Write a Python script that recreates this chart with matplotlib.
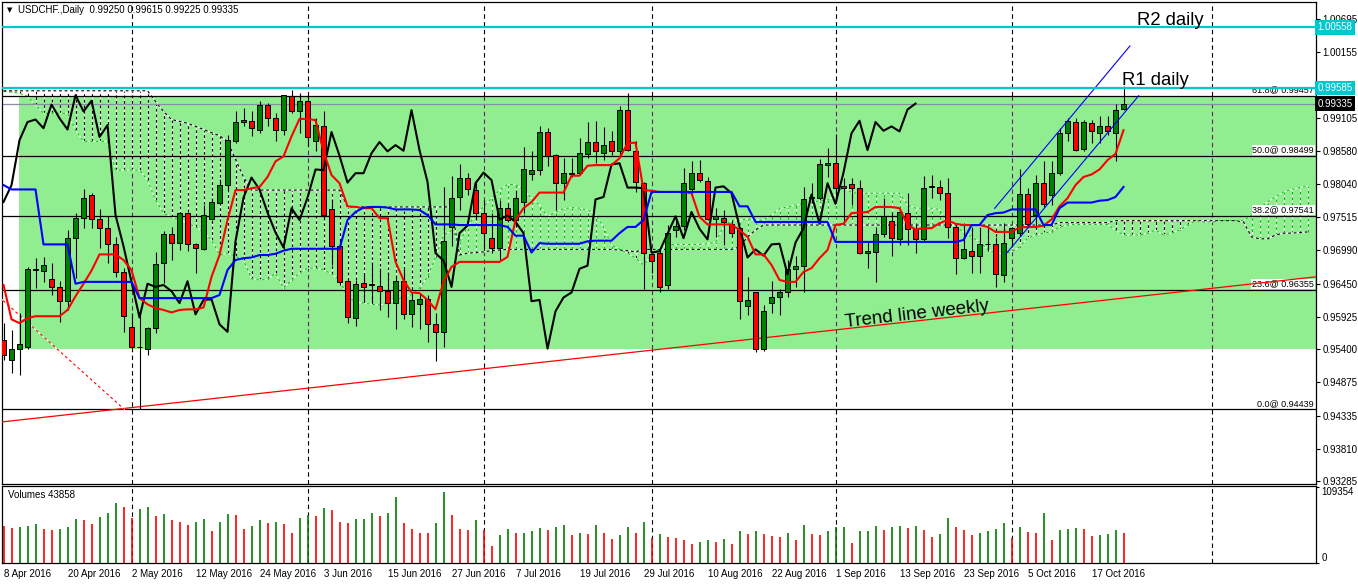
import numpy as np
import matplotlib
matplotlib.use("Agg")
import matplotlib.pyplot as plt
from matplotlib.patches import Rectangle
from matplotlib.transforms import blended_transform_factory

# ---- USDCHF daily, 8 Apr 2016 .. 21 Oct 2016 (one value per trading day) ----
OPENS = [
    0.9555, 0.9523, 0.9540, 0.9544, 0.9667, 0.9666, 0.9652, 0.9639, 0.9617, 0.9718,
    0.9750, 0.9787, 0.9748, 0.9735, 0.9708, 0.9664, 0.9576, 0.9543, 0.9541, 0.9574,
    0.9678, 0.9725, 0.9710, 0.9759, 0.9709, 0.9700, 0.9748, 0.9774, 0.9803, 0.9874,
    0.9904, 0.9906, 0.9891, 0.9932, 0.9910, 0.9892, 0.9946, 0.9921, 0.9938, 0.9873,
    0.9898, 0.9764, 0.9705, 0.9650, 0.9590, 0.9646, 0.9644, 0.9642, 0.9633, 0.9614,
    0.9649, 0.9596, 0.9612, 0.9620, 0.9580, 0.9568, 0.9736, 0.9784, 0.9814, 0.9795,
    0.9758, 0.9719, 0.9703, 0.9766, 0.9747, 0.9776, 0.9820, 0.9827, 0.9888, 0.9851,
    0.9806, 0.9821, 0.9822, 0.9853, 0.9872, 0.9855, 0.9874, 0.9857, 0.9923, 0.9858,
    0.9806, 0.9693, 0.9694, 0.9643, 0.9731, 0.9738, 0.9796, 0.9823, 0.9810, 0.9748,
    0.9751, 0.9740, 0.9735, 0.9610, 0.9631, 0.9540, 0.9614, 0.9623, 0.9632, 0.9668,
    0.9674, 0.9782, 0.9782, 0.9835, 0.9838, 0.9802, 0.9804, 0.9798, 0.9694, 0.9696,
    0.9725, 0.9746, 0.9716, 0.9759, 0.9732, 0.9716, 0.9800, 0.9800, 0.9791, 0.9736,
    0.9687, 0.9698, 0.9690, 0.9708, 0.9708, 0.9659, 0.9719, 0.9726, 0.9788, 0.9755,
    0.9807, 0.9787, 0.9823, 0.9887, 0.9904, 0.9861, 0.9902, 0.9887, 0.9897, 0.9887,
    0.99250,
]
HIGHS = [
    0.9582, 0.9571, 0.9598, 0.9672, 0.9686, 0.9688, 0.9679, 0.9649, 0.9731, 0.9758,
    0.9797, 0.9790, 0.9764, 0.9753, 0.9720, 0.9670, 0.9598, 0.9603, 0.9575, 0.9696,
    0.9730, 0.9736, 0.9760, 0.9760, 0.9710, 0.9771, 0.9782, 0.9812, 0.9883, 0.9921,
    0.9926, 0.9922, 0.9937, 0.9934, 0.9919, 0.9948, 0.9955, 0.9950, 0.9946, 0.9910,
    0.9921, 0.9779, 0.9715, 0.9651, 0.9651, 0.9663, 0.9680, 0.9670, 0.9664, 0.9656,
    0.9668, 0.9632, 0.9629, 0.9627, 0.9598, 0.9800, 0.9818, 0.9837, 0.9822, 0.9811,
    0.9779, 0.9758, 0.9779, 0.9774, 0.9795, 0.9864, 0.9858, 0.9897, 0.9895, 0.9853,
    0.9846, 0.9846, 0.9878, 0.9904, 0.9906, 0.9896, 0.9889, 0.9929, 0.9950, 0.9873,
    0.9808, 0.9694, 0.9699, 0.9739, 0.9752, 0.9830, 0.9842, 0.9843, 0.9816, 0.9766,
    0.9763, 0.9747, 0.9736, 0.9656, 0.9632, 0.9611, 0.9649, 0.9636, 0.9683, 0.9689,
    0.9800, 0.9806, 0.9844, 0.9862, 0.9885, 0.9814, 0.9814, 0.9811, 0.9712, 0.9736,
    0.9783, 0.9760, 0.9763, 0.9790, 0.9741, 0.9818, 0.9819, 0.9811, 0.9814, 0.9742,
    0.9742, 0.9736, 0.9736, 0.9736, 0.9720, 0.9742, 0.9736, 0.9828, 0.9798, 0.9819,
    0.9841, 0.9841, 0.9894, 0.9910, 0.9910, 0.9908, 0.9907, 0.9913, 0.9913, 0.9933,
    0.99615,
]
LOWS = [
    0.9523, 0.9502, 0.9499, 0.9541, 0.9638, 0.9648, 0.9627, 0.9584, 0.9603, 0.9654,
    0.9734, 0.9734, 0.9702, 0.9679, 0.9656, 0.9567, 0.9541, 0.94439, 0.9531, 0.9566,
    0.9646, 0.9683, 0.9699, 0.9698, 0.9663, 0.9699, 0.9747, 0.9773, 0.9795, 0.9870,
    0.9897, 0.9882, 0.9886, 0.9897, 0.9873, 0.9883, 0.9918, 0.9886, 0.9865, 0.9857,
    0.9750, 0.9675, 0.9643, 0.9582, 0.9578, 0.9616, 0.9616, 0.9603, 0.9592, 0.9572,
    0.9588, 0.9575, 0.9572, 0.9552, 0.9521, 0.9544, 0.9705, 0.9763, 0.9787, 0.9747,
    0.9699, 0.9694, 0.9683, 0.9744, 0.9736, 0.9759, 0.9811, 0.9819, 0.9834, 0.9763,
    0.9779, 0.9816, 0.9819, 0.9847, 0.9839, 0.9843, 0.9851, 0.9849, 0.9857, 0.9792,
    0.9636, 0.9662, 0.9632, 0.9636, 0.9720, 0.9731, 0.9787, 0.9808, 0.9747, 0.9720,
    0.9707, 0.9720, 0.9588, 0.9595, 0.9536, 0.9538, 0.9598, 0.9595, 0.9624, 0.9640,
    0.9631, 0.9774, 0.9779, 0.9816, 0.9775, 0.9742, 0.9771, 0.9693, 0.9670, 0.9648,
    0.9720, 0.9689, 0.9707, 0.9707, 0.9694, 0.9712, 0.9783, 0.9779, 0.9719, 0.9661,
    0.9684, 0.9662, 0.9662, 0.9698, 0.9639, 0.9648, 0.9704, 0.9721, 0.9734, 0.9734,
    0.9768, 0.9771, 0.9819, 0.9873, 0.9857, 0.9857, 0.9870, 0.9870, 0.9883, 0.9842,
    0.99225,
]
CLOSES = [
    0.9531, 0.9540, 0.9549, 0.9668, 0.9669, 0.9675, 0.9639, 0.9617, 0.9719, 0.9750,
    0.9783, 0.9748, 0.9735, 0.9708, 0.9664, 0.9593, 0.9543, 0.9544, 0.9574, 0.9677,
    0.9725, 0.9710, 0.9759, 0.9708, 0.9702, 0.9755, 0.9776, 0.9803, 0.9875, 0.9904,
    0.9908, 0.9894, 0.9932, 0.9910, 0.9892, 0.9947, 0.9921, 0.9938, 0.9880, 0.9899,
    0.9755, 0.9705, 0.9648, 0.9591, 0.9645, 0.9640, 0.9643, 0.9633, 0.9614, 0.9649,
    0.9596, 0.9619, 0.9620, 0.9580, 0.9568, 0.9713, 0.9783, 0.9815, 0.9796, 0.9759,
    0.9727, 0.9703, 0.9766, 0.9747, 0.9783, 0.9828, 0.9827, 0.9888, 0.9850, 0.9807,
    0.9822, 0.9822, 0.9854, 0.9872, 0.9857, 0.9867, 0.9858, 0.9923, 0.9859, 0.9808,
    0.9694, 0.9682, 0.9640, 0.9726, 0.9738, 0.9806, 0.9823, 0.9811, 0.9748, 0.9754,
    0.9744, 0.9726, 0.9617, 0.9619, 0.9541, 0.9601, 0.9623, 0.9631, 0.9669, 0.9674,
    0.9780, 0.9784, 0.9836, 0.9838, 0.9799, 0.9799, 0.9798, 0.9695, 0.9697, 0.9725,
    0.9753, 0.9718, 0.9760, 0.9733, 0.9716, 0.9799, 0.9801, 0.9790, 0.9736, 0.9687,
    0.9700, 0.9690, 0.9708, 0.9709, 0.9660, 0.9711, 0.9734, 0.9788, 0.9741, 0.9806,
    0.9773, 0.9823, 0.9886, 0.9906, 0.9859, 0.9904, 0.9890, 0.9897, 0.9889, 0.9924,
    0.99335,
]
VOLUMES = [
    53000, 50600, 51500, 53000, 55900, 48700, 47200, 48700, 51500, 63100,
    61700, 55900, 66000, 71800, 86200, 80400, 64100, 77600, 80400, 67400,
    70300, 61700, 58800, 54400, 58800, 63100, 45800, 58800, 70300, 68900,
    48700, 53000, 61700, 57300, 58800, 55900, 42900, 64500, 68900, 67400,
    79000, 76100, 58800, 57300, 63100, 63600, 71800, 67400, 71800, 94900,
    57300, 48700, 42900, 42500, 57300, 102100, 68900, 48700, 47200, 61700,
    47200, 24100, 40000, 48700, 42900, 43300, 45800, 50100, 47200, 51500,
    54400, 40000, 42900, 41400, 54400, 42900, 34200, 40000, 51500, 42900,
    58800, 36100, 41400, 37600, 35600, 32800, 27000, 29900, 32800, 29900,
    34200, 27000, 45800, 41400, 45800, 41400, 38500, 37100, 42900, 32800,
    54400, 41400, 40000, 45800, 51500, 52000, 28400, 45800, 46200, 53000,
    47200, 51500, 53000, 50100, 53000, 47200, 37100, 41400, 64500, 51500,
    47200, 40000, 42900, 45800, 48700, 57300, 36600, 51500, 44300, 42900,
    71800, 32800, 47200, 48700, 50100, 48700, 38500, 40000, 41400, 47200,
    43858,
]

# Ichimoku lines
TENKAN = [
    0.9643, 0.9588, 0.9582, 0.9590, 0.9593, 0.9593, 0.9593, 0.9593, 0.9603, 0.9625,
    0.9645, 0.9666, 0.9692, 0.9692, 0.9692, 0.9683, 0.9667, 0.9622, 0.9612, 0.9606,
    0.9603, 0.9599, 0.9603, 0.9604, 0.9604, 0.9607, 0.9656, 0.9691, 0.9747, 0.9795,
    0.9795, 0.9798, 0.9800, 0.9816, 0.9841, 0.9849, 0.9881, 0.9909, 0.9909, 0.9907,
    0.9857, 0.9819, 0.9806, 0.9769, 0.9768, 0.9766, 0.9766, 0.9750, 0.9750, 0.9680,
    0.9651, 0.9631, 0.9630, 0.9619, 0.9604, 0.9648, 0.9672, 0.9680, 0.9680, 0.9680,
    0.9680, 0.9680, 0.9680, 0.9688, 0.9747, 0.9766, 0.9776, 0.9791, 0.9791, 0.9791,
    0.9791, 0.9818, 0.9818, 0.9834, 0.9835, 0.9835, 0.9835, 0.9846, 0.9870, 0.9871,
    0.9795, 0.9794, 0.9792, 0.9792, 0.9792, 0.9792, 0.9790, 0.9752, 0.9740, 0.9740,
    0.9740, 0.9740, 0.9731, 0.9720, 0.9692, 0.9692, 0.9675, 0.9651, 0.9648, 0.9648,
    0.9664, 0.9670, 0.9686, 0.9699, 0.9739, 0.9741, 0.9758, 0.9759, 0.9760, 0.9768,
    0.9768, 0.9768, 0.9766, 0.9739, 0.9732, 0.9734, 0.9734, 0.9742, 0.9747, 0.9741,
    0.9739, 0.9739, 0.9739, 0.9736, 0.9728, 0.9728, 0.9728, 0.9735, 0.9736, 0.9736,
    0.9738, 0.9748, 0.9769, 0.9782, 0.9803, 0.9816, 0.9820, 0.9828, 0.9843, 0.9853,
    0.9891,
]
KIJUN = ([0.9803] + [0.9796] * 4 + [0.9708] * 4 + [0.9645] + [0.9648] * 7 + [0.9622] * 10
         + [0.9627, 0.9667, 0.9683, 0.9686, 0.9687, 0.9691, 0.9691, 0.9693, 0.9698]
         + [0.9701] * 7
         + [0.9747, 0.9760, 0.9767, 0.9768, 0.9768, 0.9767, 0.9764, 0.9764, 0.9764, 0.9763, 0.9755]
         + [0.9740] * 3 + [0.9739] * 6 + [0.9736, 0.9722, 0.9722, 0.9695, 0.9710]
         + [0.9709] * 5 + [0.9713] + [0.9714] * 3 + [0.9726, 0.9736, 0.9736, 0.9747]
         + [0.9792] * 11 + [0.9769] * 2 + [0.9744] * 10 + [0.9712] * 16
         + [0.9715, 0.9739, 0.9739, 0.9755, 0.9758, 0.9759] + [0.9764] * 4
         + [0.9739] * 2 + [0.9766] + [0.9775] * 4 + [0.9778, 0.9779, 0.9784, 0.9800])
SPAN_A = [
    0.9953, 0.9952, 0.9950, 0.9945, 0.9931, 0.9918, 0.9918, 0.9918, 0.9918, 0.9891,
    0.9873, 0.9873, 0.9873, 0.9873, 0.9827, 0.9827, 0.9827, 0.9827, 0.9811, 0.9779,
    0.9758, 0.9752, 0.9747, 0.9742, 0.9736, 0.9728, 0.9715, 0.9691, 0.9694, 0.9689,
    0.9683, 0.9653, 0.9651, 0.9652, 0.9662, 0.9638, 0.9651, 0.9662, 0.9670, 0.9670,
    0.9667, 0.9661, 0.9651, 0.9624, 0.9616, 0.9614, 0.9612, 0.9611, 0.9614, 0.9619,
    0.9624, 0.9627, 0.9638, 0.9656, 0.9688, 0.9723, 0.9730, 0.9712, 0.9736, 0.9755,
    0.9768, 0.9782, 0.9795, 0.9804, 0.9804, 0.9795, 0.9782, 0.9771, 0.9752, 0.9760,
    0.9765, 0.9767, 0.9766, 0.9763, 0.9756, 0.9736, 0.9707, 0.9700, 0.9694, 0.9686,
    0.9675, 0.9691, 0.9702, 0.9707, 0.9708, 0.9708, 0.9708, 0.9708, 0.9709, 0.9712,
    0.9736, 0.9747, 0.9747, 0.9749, 0.9747, 0.9747, 0.9755, 0.9765, 0.9768, 0.9771,
    0.9774, 0.9775, 0.9778, 0.9779, 0.9787, 0.9800, 0.9791, 0.9790, 0.9790, 0.9790,
    0.9790, 0.9790, 0.9790, 0.9771, 0.9766, 0.9766, 0.9766, 0.9764, 0.9742, 0.9736,
    0.9728, 0.9720, 0.9712, 0.9700, 0.9694, 0.9694, 0.9696, 0.9704, 0.9718, 0.9723,
    0.9726, 0.9728, 0.9736, 0.9739, 0.9740, 0.9740, 0.9740, 0.9740, 0.9740, 0.9731,
    0.9723, 0.9723, 0.9723, 0.9726, 0.9731, 0.9723, 0.9726, 0.9731, 0.9739, 0.9746,
    0.9744, 0.9744, 0.9746, 0.9746, 0.9746, 0.9746, 0.9755, 0.9766, 0.9776, 0.9784,
    0.9792, 0.9796, 0.9799, 0.9801,
]
SPAN_B = ([0.9954] * 19 + [0.9937]
          + [0.9921, 0.9908, 0.9905, 0.9902, 0.9897, 0.9892, 0.9887, 0.9882, 0.9873, 0.9844]
          + [0.9816] + [0.9795] * 12 + [0.9768] * 14
          + [0.9691, 0.9694, 0.9695, 0.9696, 0.9698, 0.9699] + [0.9700] * 14
          + [0.9699, 0.9698, 0.9696] + [0.9700] * 12 + [0.9704, 0.9720, 0.9731]
          + [0.9739] * 37 + [0.9743] * 7 + [0.9746] * 16
          + [0.9744, 0.9720, 0.9717, 0.9717, 0.9723, 0.9726, 0.9726, 0.9727, 0.9728])
CHIKOU_SHIFT = 26

DATE_LABELS = ["8 Apr 2016", "20 Apr 2016", "2 May 2016", "12 May 2016", "24 May 2016",
               "3 Jun 2016", "15 Jun 2016", "27 Jun 2016", "7 Jul 2016", "19 Jul 2016",
               "29 Jul 2016", "10 Aug 2016", "22 Aug 2016", "1 Sep 2016", "13 Sep 2016",
               "23 Sep 2016", "5 Oct 2016", "17 Oct 2016"]
MONTH_BARS = [16, 38, 60, 81, 104, 126, 151]
PRICE_TICKS = [1.00695, 1.00155, 0.99105, 0.98580, 0.98040, 0.97515, 0.96990,
               0.96450, 0.95925, 0.95400, 0.94875, 0.94335, 0.93810, 0.93285]
FIB_LEVELS = [0.0, 23.6, 38.2, 50.0, 61.8]
FIB_PRICES = [0.94439, 0.96355, 0.97541, 0.98499, 0.99457]
R1 = 0.99585
R2 = 1.00558
ZONE_START, ZONE_BOTTOM, ZONE_TOP = 1.94, 0.95400, 0.99457
TREND_WEEKLY = [(0, 0.9424), (164, 0.9656)]
FIB_DIAG = [(-1.0, 0.9629), (15.1, 0.94439)]
CHANNEL_UP = [(123.9, 0.97658), (140.8, 1.00258)]
CHANNEL_LO = [(125.3, 0.96926), (141.9, 0.99461)]
VOL_MAX = 109354

FONT = "Liberation Sans"
W, H = 1358, 584
YMIN, YMAX = 0.93243, 1.00962
XMIN, XMAX = -0.19, 164.06

fig = plt.figure(figsize=(W / 100, H / 100), dpi=100)
fig.patch.set_facecolor("white")
ax = fig.add_axes([2 / W, 100 / H, 1314 / W, 482 / H])
axv = fig.add_axes([2 / W, 21 / H, 1314 / W, 77 / H])

for a in (ax, axv):
    a.set_xlim(XMIN, XMAX)
    a.set_facecolor("white")
    for s in a.spines.values():
        s.set_linewidth(0.9)
        s.set_color("black")
ax.set_ylim(YMIN, YMAX)
axv.set_ylim(0, 110800)

x = np.arange(len(CLOSES))
o = np.array(OPENS)
h = np.array(HIGHS)
l = np.array(LOWS)
c = np.array(CLOSES)

# support zone
ax.add_patch(Rectangle((ZONE_START, ZONE_BOTTOM), 200, ZONE_TOP - ZONE_BOTTOM,
                       facecolor="#90ee90", edgecolor="none", zorder=0))

# month separators
dash = (0, (4, 3))
ax.vlines(MONTH_BARS, YMIN, ZONE_BOTTOM, colors="black", lw=0.8, linestyles=dash, zorder=1)
ax.vlines(MONTH_BARS, ZONE_BOTTOM, ZONE_TOP, colors="#5e2a5e", lw=0.8, linestyles=dash, zorder=1)
ax.vlines(MONTH_BARS, ZONE_TOP, YMAX, colors="black", lw=0.8, linestyles=dash, zorder=1)
axv.vlines(MONTH_BARS, 0, 110800, colors="black", lw=0.8, linestyles=dash, zorder=1)

# kumo
sa = np.array(SPAN_A)
sb = np.array(SPAN_B)
cx = np.arange(len(sa))
lo = np.minimum(sa, sb)
hi = np.maximum(sa, sb)
dots = (0, (2.5, 2.5))
ax.vlines(cx, lo, hi, colors="white", lw=0.8, zorder=2)
ax.vlines(cx, lo, hi, colors=np.where(sa >= sb, "#00c000", "black"), lw=0.8,
          linestyles=dots, zorder=2.1)
ax.plot(cx, sa, color="white", lw=0.8, zorder=2.2)
ax.plot(cx, sa, color="#00d000", lw=0.8, ls=dots, zorder=2.3)
ax.plot(cx, sb, color="white", lw=0.8, zorder=2.2)
ax.plot(cx, sb, color="black", lw=0.8, ls=dots, zorder=2.3)

# fibonacci levels
tr = blended_transform_factory(ax.transAxes, ax.transData)
for lvl, p in zip(FIB_LEVELS, FIB_PRICES):
    ax.axhline(p, color="black", lw=0.9, zorder=2.5)
    ax.text(0.9985, p + 0.00022, "%.1f@ %.5f" % (lvl, p), transform=tr, ha="right",
            va="bottom", fontsize=6.5, family=FONT, zorder=2.4,
            bbox=dict(boxstyle="square,pad=0.08", fc="white", ec="none"))
ax.axhline(CLOSES[-1], color="#8c8ca6", lw=0.9, zorder=2.5)

# trend lines
ax.axline(TREND_WEEKLY[0], TREND_WEEKLY[1], color="red", lw=0.9, zorder=3)
fx, fy = zip(*FIB_DIAG)
ax.plot(fx, fy, color="white", lw=0.8, zorder=3)
ax.plot(fx, fy, color="red", lw=0.8, ls=dots, zorder=3.1)

# candles
ax.vlines(x, l, h, colors="black", lw=0.8, zorder=4)
up = c >= o
ax.bar(x, np.abs(c - o), bottom=np.minimum(o, c), width=0.56,
       color=np.where(up, "#008000", "#ff0000"), edgecolor="black", linewidth=0.7, zorder=4.1)

# ichimoku lines
ax.plot(np.arange(len(CLOSES) - CHIKOU_SHIFT), CLOSES[CHIKOU_SHIFT:], color="black", lw=1.5, zorder=5)
ax.plot(x, TENKAN, color="#ff0000", lw=1.5, zorder=5.1)
ax.plot(x, KIJUN, color="#0000ff", lw=1.5, zorder=5.2)

# channel
for seg in (CHANNEL_UP, CHANNEL_LO):
    sx, sy = zip(*seg)
    ax.plot(sx, sy, color="#0000ff", lw=0.8, zorder=6)

# resistance lines
ax.axhline(R2, color="#00c8d0", lw=1.6, zorder=6)
ax.axhline(R1, color="#00c8d0", lw=1.6, zorder=6)

ax.text(141.7, 1.00594, "R2 daily", fontsize=13.3, family=FONT, ha="left", va="baseline", zorder=7)
ax.text(139.8, 0.99633, "R1 daily", fontsize=13.3, family=FONT, ha="left", va="baseline", zorder=7)
ax.text(105.2, 0.95757, "Trend line weekly", fontsize=13.5, family=FONT, ha="left",
        va="baseline", rotation=6.5, rotation_mode="anchor", zorder=7)

# price axis
ax.yaxis.tick_right()
ax.set_yticks(PRICE_TICKS)
ax.set_yticklabels(["%.5f" % t for t in PRICE_TICKS], fontsize=7, family=FONT)
ax.tick_params(axis="y", length=3, width=0.8, pad=1.5)
ax.tick_params(axis="x", bottom=False, labelbottom=False)

for price, fc in ((R2, "#00c8d0"), (R1, "#00c8d0"), (CLOSES[-1], "black")):
    ax.text(1.0012, price, "%.5f" % price, transform=tr, ha="left", va="center", fontsize=7,
            family=FONT, color="white", clip_on=False, zorder=10,
            bbox=dict(boxstyle="square,pad=0.25", fc=fc, ec="none"))

# volumes
v = np.array(VOLUMES)
vcol = ["#ff0000"] + ["#008000" if v[i] > v[i - 1] else "#ff0000" for i in range(1, len(v))]
axv.vlines(x, 0, v, colors=vcol, lw=1.2, zorder=2)
axv.yaxis.tick_right()
axv.set_yticks([0, VOL_MAX])
axv.set_yticklabels(["0", str(VOL_MAX)], fontsize=7, family=FONT)
axv.get_yticklabels()[0].set_va("bottom")
axv.get_yticklabels()[1].set_va("top")
axv.tick_params(axis="y", length=2, width=0.8, pad=2)
axv.set_xticks(range(0, 8 * len(DATE_LABELS), 8))
axv.set_xticklabels(DATE_LABELS, fontsize=7, family=FONT, ha="left")
axv.tick_params(axis="x", length=0, pad=4)
axv.text(6 / 1314, 0.88, "Volumes %d" % VOLUMES[-1], transform=axv.transAxes,
         fontsize=7, family=FONT, va="center")

# header
fig.text(7 / W, 1 - 10.5 / H, "\u25bc", fontsize=5, family="DejaVu Sans", va="center")
fig.text(18 / W, 1 - 10 / H, "USDCHF.,Daily  %.5f %.5f %.5f %.5f"
         % (OPENS[-1], HIGHS[-1], LOWS[-1], CLOSES[-1]),
         fontsize=7, family=FONT, va="center")

fig.savefig("out.png", dpi=100, facecolor="white")
